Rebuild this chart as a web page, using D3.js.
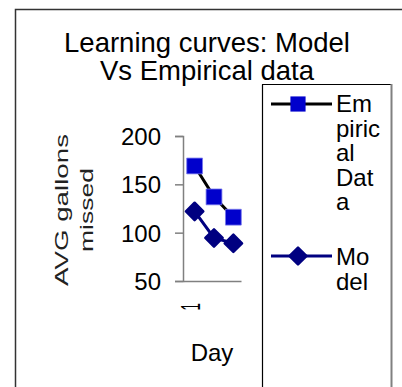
<!DOCTYPE html>
<html><head><meta charset="utf-8">
<script src="https://cdn.jsdelivr.net/npm/d3@7"></script>
<style>html,body{margin:0;padding:0;background:#fff;}svg{display:block;font-family:"Liberation Sans",Arial,sans-serif;}</style>
</head><body>
<svg id="c" width="402" height="387"></svg>
<script>
const categories = ["1","2","3"];
const empirical = [169, 137, 116];
const model = [122, 94.5, 89];
const yTicks = [50, 100, 150, 200];
const titleLines = ["Learning curves: Model","Vs Empirical data"];
const yTitleLines = ["AVG gallons","missed"];
const legendEmp = ["Em","piric","al","Dat","a"];
const legendMod = ["Mo","del"];

const svg = d3.select("#c");
// outer border
svg.append("path").attr("d","M15.5,400 L15.5,9.5 L410,9.5").attr("fill","none").attr("stroke","#333").attr("stroke-width",1.5);

// title
const t = svg.append("text").attr("text-anchor","middle").attr("font-size",27.5).attr("fill","#000");
titleLines.forEach((s,i)=>t.append("tspan").attr("x",207).attr("y",52+i*28).text(s));

const x = d3.scalePoint().domain(categories).range([183,245]).padding(0.6);
const y = d3.scaleLinear().domain([50,200]).range([281,136]);

// axes
const gy = svg.append("g").attr("transform","translate(183,0)")
  .call(d3.axisLeft(y).tickValues(yTicks).tickSize(8).tickPadding(14).tickFormat(d3.format("d")));
gy.select(".domain").attr("stroke","#808080").attr("stroke-width",1.5);
gy.selectAll(".tick line").attr("stroke","#808080").attr("stroke-width",1.5);
gy.selectAll(".tick text").attr("font-size",24).attr("fill","#000").attr("font-family","Liberation Sans, Arial, sans-serif").attr("dy","0.36em");

const gx = svg.append("g").attr("transform","translate(0,281)")
  .call(d3.axisBottom(d3.scaleLinear().domain([0,1]).range([183,241])).tickValues([]).tickSizeOuter(0));
gx.select(".domain").attr("stroke","#808080").attr("stroke-width",1.5);

// x tick label (only first shown)
svg.append("text").attr("transform",`translate(191,303) rotate(-90) scale(0.5,1)`)
  .attr("font-size",27).attr("text-anchor","end").attr("dy","0.35em").attr("fill","#000").text(categories[0]);

// x title
svg.append("text").attr("x",212).attr("y",361).attr("text-anchor","middle").attr("font-size",24).attr("fill","#000").text("Day");

// y title
const yLens = [152, 84];
yTitleLines.forEach((s,i)=>{
  svg.append("text").attr("transform",`translate(${68+i*25},210) rotate(-90)`)
    .attr("text-anchor","middle").attr("font-size",19).attr("fill","#222")
    .attr("textLength",yLens[i]).attr("lengthAdjust","spacingAndGlyphs").text(s);
});

// lines
const line = d3.line().x((d,i)=>x(categories[i])).y(d=>y(d));
svg.append("path").datum(empirical).attr("d",line).attr("fill","none").attr("stroke","#000").attr("stroke-width",3);
svg.append("path").datum(model).attr("d",line).attr("fill","none").attr("stroke","#000080").attr("stroke-width",3);

const sq = d3.symbol().type(d3.symbolSquare).size(250);
const di = d3.symbol().type(d3.symbolSquare).size(150);
svg.selectAll(".e").data(empirical).join("path")
  .attr("transform",(d,i)=>`translate(${x(categories[i])},${y(d)})`).attr("d",sq)
  .attr("fill","#0000CC").attr("stroke","#7777ee").attr("stroke-width",0.8);
svg.selectAll(".m").data(model).join("path")
  .attr("transform",(d,i)=>`translate(${x(categories[i])},${y(d)}) rotate(45)`).attr("d",di)
  .attr("fill","#000080").attr("stroke","#000080").attr("stroke-width",2.5).attr("stroke-linejoin","round");

// legend
svg.append("line").attr("x1",262.5).attr("x2",262.5).attr("y1",84.5).attr("y2",400).attr("stroke","#000").attr("stroke-width",1.2);
svg.append("line").attr("x1",262).attr("x2",392).attr("y1",84.5).attr("y2",84.5).attr("stroke","#000").attr("stroke-width",1.2);
svg.append("line").attr("x1",391.5).attr("x2",391.5).attr("y1",84).attr("y2",400).attr("stroke","#808080").attr("stroke-width",2);

svg.append("line").attr("x1",271).attr("x2",332).attr("y1",104).attr("y2",104).attr("stroke","#000").attr("stroke-width",3);
svg.append("path").attr("transform","translate(298,104)").attr("d",d3.symbol().type(d3.symbolSquare).size(230)).attr("fill","#0000CC");
svg.append("line").attr("x1",271).attr("x2",332).attr("y1",256).attr("y2",256).attr("stroke","#000080").attr("stroke-width",3);
svg.append("path").attr("transform","translate(298,256) rotate(45)").attr("d",d3.symbol().type(d3.symbolSquare).size(140)).attr("fill","#000080").attr("stroke","#000080").attr("stroke-width",2.5).attr("stroke-linejoin","round");

const le = svg.append("text").attr("font-size",24).attr("fill","#000");
legendEmp.forEach((s,i)=>le.append("tspan").attr("x",336).attr("y",112+i*24.5).text(s));
const lm = svg.append("text").attr("font-size",24).attr("fill","#000");
legendMod.forEach((s,i)=>lm.append("tspan").attr("x",336).attr("y",265+i*24.5).text(s));
</script>
</body></html>
